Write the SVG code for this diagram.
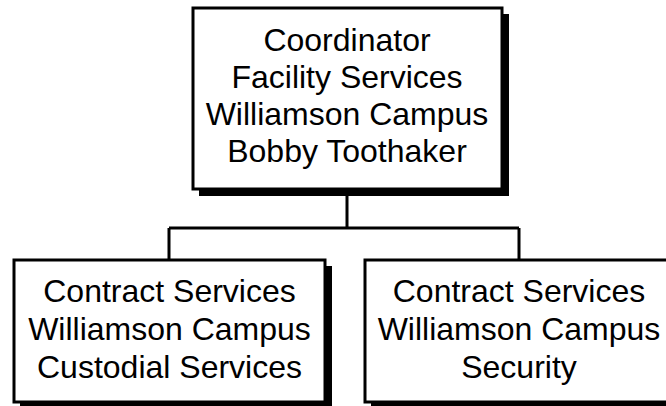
<svg xmlns="http://www.w3.org/2000/svg" width="666" height="406" viewBox="0 0 666 406">
<style>
.shadow{fill:#000}
.box{fill:#fff;stroke:#000;stroke-width:3}
.t{font-family:"Liberation Sans",Arial,sans-serif;font-size:32px;fill:#000;text-anchor:middle}
.conn{fill:none;stroke:#000;stroke-width:3}
</style>
<rect width="666" height="406" fill="#fff"/>
<g id="connectors">
<path class="conn" d="M347,190 V228 M169,228 H519 M169,228 V261 M519,228 V261"/>
</g>
<g id="coordinator">
<rect class="shadow" x="199" y="14" width="310" height="182"/>
<rect class="box" x="193" y="8" width="309" height="181"/>
<text class="t" x="347" y="51">Coordinator</text>
<text class="t" x="347" y="88">Facility Services</text>
<text class="t" x="347" y="125">Williamson Campus</text>
<text class="t" x="347" y="162">Bobby Toothaker</text>
</g>
<g id="custodial">
<rect class="shadow" x="20" y="266" width="312" height="144"/>
<rect class="box" x="14" y="260" width="311" height="142"/>
<text class="t" x="169.5" y="302">Contract Services</text>
<text class="t" x="169.5" y="340">Williamson Campus</text>
<text class="t" x="169.5" y="378">Custodial Services</text>
</g>
<g id="security">
<rect class="shadow" x="371" y="266" width="312" height="144"/>
<rect class="box" x="365" y="260" width="309" height="142"/>
<text class="t" x="519" y="302">Contract Services</text>
<text class="t" x="519" y="340">Williamson Campus</text>
<text class="t" x="519" y="378">Security</text>
</g>
</svg>
